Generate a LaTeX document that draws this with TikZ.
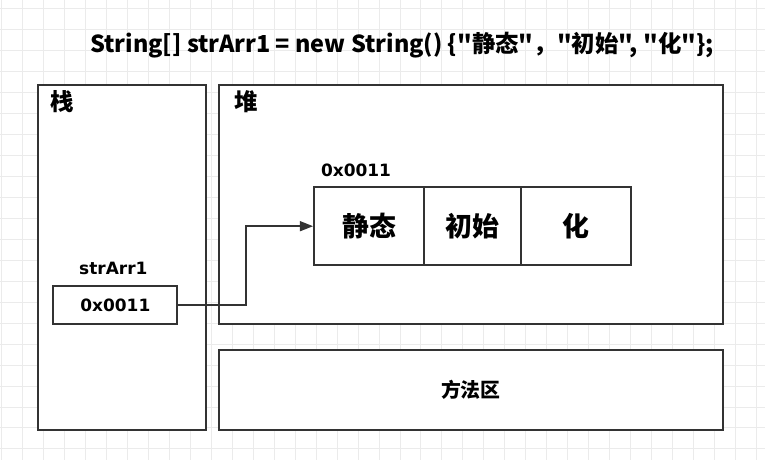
\documentclass[tikz,border=0pt]{standalone}
\usepackage{fontspec}
\newfontfamily\cjk{Noto Sans CJK SC}
\newfontfamily\latn{DejaVu Sans}
\usetikzlibrary{positioning,arrows.meta}
\definecolor{ink}{HTML}{333333}
\definecolor{gridline}{HTML}{EBEBEB}

\begin{document}
\begin{tikzpicture}[x=0.03cm,y=-0.03cm,>={Triangle[length=4mm,width=3mm]},
  font=\cjk\bfseries\color{ink},
  region/.style={draw=ink,line width=1.7pt,fill=white,inner sep=0pt},
  cell/.style={draw=ink,line width=1.7pt,fill=white,inner sep=0pt,
    minimum height=2.34cm,font=\cjk\fontsize{23}{26}\selectfont\bfseries},
  tag/.style={font=\latn\fontsize{14.5}{17}\selectfont\bfseries,inner sep=0pt}]
  % background grid
  \fill[white] (0,0) rectangle (765,460);
  \foreach \gx in {1,22,...,764} \draw[gridline,line width=0.8pt] (\gx,0) -- (\gx,460);
  \foreach \gy in {8,29,...,459} \draw[gridline,line width=0.8pt] (0,\gy) -- (765,\gy);
  \useasboundingbox (0,0) rectangle (765,460);

  \node[font=\cjk\fontsize{20}{24}\selectfont\bfseries] (title) at (402,45)
    {String[] strArr1 = new String() \{"静态"，"初始", "化"\};};

  % regions
  \node[region,minimum width=5.04cm,minimum height=10.35cm] (stack) at (122,257.5) {};
  \node[region,minimum width=15.12cm,minimum height=7.17cm] (heap) at (471,204.5) {};
  \node[region,minimum width=15.12cm,minimum height=2.4cm,
    font=\cjk\fontsize{17}{20}\selectfont\bfseries] (method) at (471,390) {方法区};
  \node[font=\cjk\fontsize{20}{24}\selectfont\bfseries] (stacklbl) at (62,101) {栈};
  \node[font=\cjk\fontsize{20}{24}\selectfont\bfseries] (heaplbl) at (246,101) {堆};

  % variable in the stack
  \node[tag] (varname) at (113,268) {strArr1};
  \node[region,tag,minimum width=3.72cm,minimum height=1.14cm] (var) at (115,305) {0x0011};

  % array in the heap
  \node[cell,minimum width=3.3cm] (c1) at (369,226) {静态};
  \node[cell,minimum width=2.91cm] (c2) at (472.5,226) {初始};
  \node[cell,minimum width=3.3cm] (c3) at (576,226) {化};
  \node[tag] (addr) at (356,170) {0x0011};

  \draw[->,ink,line width=1.5pt] (var.east) -- ++(68,0) |- (c1.west);
\end{tikzpicture}
\end{document}
